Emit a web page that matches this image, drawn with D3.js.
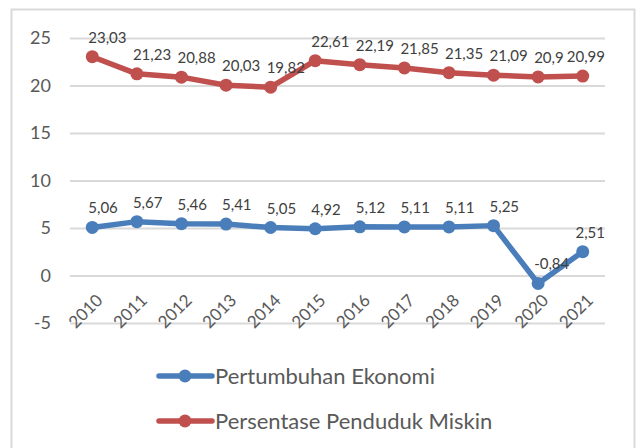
<!DOCTYPE html>
<html>
<head>
<meta charset="utf-8">
<script src="https://cdn.jsdelivr.net/npm/d3@7"></script>
<style>
  body { margin: 0; background: #fff; }
  svg { display: block; font-family: Lato, "Open Sans", sans-serif; }
</style>
</head>
<body>
<div class="chart"></div>
<script>
var years = ['2010', '2011', '2012', '2013', '2014', '2015', '2016', '2017', '2018', '2019', '2020', '2021'];
var growth = [5.06, 5.67, 5.46, 5.41, 5.05, 4.92, 5.12, 5.11, 5.11, 5.25, -0.84, 2.51];
var poverty = [23.03, 21.23, 20.88, 20.03, 19.82, 22.61, 22.19, 21.85, 21.35, 21.09, 20.9, 20.99];
var yTicks = [-5, 0, 5, 10, 15, 20, 25];
var seriesNames = ['Pertumbuhan Ekonomi', 'Persentase Penduduk Miskin'];

var width = 638, height = 448;
var blue = '#4a7ebb', red = '#c0504d';

var svg = d3.select('.chart')
  .append('svg')
  .attr('width', width)
  .attr('height', height);

// outer frame (bottom edge is cut off)
svg.append('path')
  .attr('d', 'M11.5,448 V9.5 H634.5 V448')
  .attr('fill', 'none')
  .attr('stroke', '#d9d9d9')
  .attr('stroke-width', 2);

var x = d3.scaleBand()
  .domain(years)
  .range([70, 605]);

var y = d3.scaleLinear()
  .domain([-5, 25])
  .range([323, 38]);

var cx = d => x(d) + x.bandwidth() / 2;

// gridlines
svg.append('g')
  .selectAll('line')
  .data(yTicks)
  .enter()
  .append('line')
  .attr('x1', 70)
  .attr('x2', 605)
  .attr('y1', d => y(d) + 0.5)
  .attr('y2', d => y(d) + 0.5)
  .attr('stroke', '#d9d9d9')
  .attr('stroke-width', 2);

// y labels
svg.append('g')
  .selectAll('text')
  .data(yTicks)
  .enter()
  .append('text')
  .attr('x', 51)
  .attr('y', d => y(d))
  .attr('dy', '0.35em')
  .attr('text-anchor', 'end')
  .attr('font-size', 18)
  .attr('fill', '#595959')
  .text(d => d);

// x labels, rotated
svg.append('g')
  .selectAll('text')
  .data(years)
  .enter()
  .append('text')
  .attr('transform', d => 'translate(' + (cx(d) + 3) + ',293) rotate(-45)')
  .attr('text-anchor', 'end')
  .attr('dy', '0.7em')
  .attr('font-size', 17)
  .attr('fill', '#595959')
  .text(d => d);

var line = d3.line()
  .x((d, i) => cx(years[i]))
  .y(d => y(d));

function drawSeries(values, color) {
  var g = svg.append('g');
  g.append('path')
    .datum(values)
    .attr('d', line)
    .attr('fill', 'none')
    .attr('stroke', color)
    .attr('stroke-width', 5.5)
    .attr('stroke-linejoin', 'round');
  g.selectAll('circle')
    .data(values)
    .enter()
    .append('circle')
    .attr('cx', (d, i) => cx(years[i]))
    .attr('cy', d => y(d))
    .attr('r', 6.5)
    .attr('fill', color);
  g.selectAll('text')
    .data(values)
    .enter()
    .append('text')
    .attr('y', d => y(d) - 14)
    .attr('font-size', 15)
    .attr('fill', '#404040')
    .text(d => String(d).replace('.', ','))
    .attr('x', function (d, i) {
      // keep labels inside the plot's right edge
      var w = this.getComputedTextLength();
      return Math.min(cx(years[i]) - 4, 605 - w);
    });
}

drawSeries(poverty, red);
drawSeries(growth, blue);

// legend
var legend = svg.append('g')
  .selectAll('g')
  .data(seriesNames)
  .enter()
  .append('g')
  .attr('transform', (d, i) => 'translate(0,' + (376 + i * 45) + ')');

legend.append('line')
  .attr('x1', 159)
  .attr('x2', 212)
  .attr('stroke', (d, i) => i === 0 ? blue : red)
  .attr('stroke-width', 5.5)
  .attr('stroke-linecap', 'round');
legend.append('circle')
  .attr('cx', 185)
  .attr('r', 6.5)
  .attr('fill', (d, i) => i === 0 ? blue : red);
legend.append('text')
  .attr('x', 215)
  .attr('dy', '0.35em')
  .attr('font-size', 22)
  .attr('fill', '#595959')
  .text(d => d);
</script>
</body>
</html>
